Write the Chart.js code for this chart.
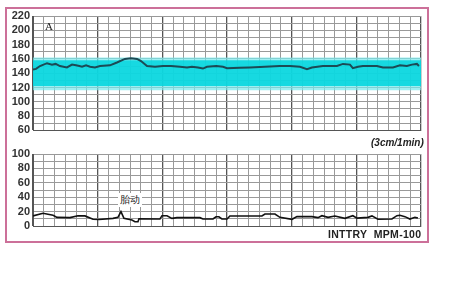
<!DOCTYPE html>
<html>
<head>
<meta charset="utf-8">
<script src="https://cdn.jsdelivr.net/npm/chart.js@4.4.1/dist/chart.umd.min.js"></script>
<style>
    body { margin: 0; background: #fff; }
    #wrap { position: relative; width: 471px; height: 300px; overflow: hidden; }
    #frame { position: absolute; left: 5px; top: 7px; width: 424px; height: 236px; box-sizing: border-box; border: 2px solid #cc7099; }
    canvas { position: absolute; left: 0; }
    .note { position: absolute; font-family: "Liberation Sans", Arial, sans-serif; color: #222; white-space: nowrap; }
</style>
</head>
<body>
<div id="wrap">
    <div id="frame"></div>
    <canvas id="fhrChart" width="471" height="140" style="top:0"></canvas>
    <canvas id="tocoChart" width="471" height="100" style="top:140px"></canvas>
    <div class="note" style="left:45px; top:20px; font-size:11px; font-family:'Liberation Serif', serif;">A</div>
    <div class="note" style="left:371px; top:137px; font-size:10px; font-weight:bold; font-style:italic;">(3cm/1min)</div>
    <div class="note" style="left:118px; top:193px; font-size:10px; background:#fff; padding:0 2px;">胎动</div>
    <div class="note" style="left:328px; top:228px; font-size:10.5px; font-weight:bold; letter-spacing:0.3px;">INTTRY&nbsp; MPM-100</div>
</div>
<script>
// time in small grid squares (6 squares = 1 big square)
const fhrTime = [0, 0.28, 0.65, 1.3, 1.76, 2.1, 2.5, 3.15, 3.62, 3.99, 4.3, 4.55, 4.92, 5.3, 5.75, 6.22, 7.14, 7.79, 8.53, 9.09, 9.65, 10.02, 10.58, 11.32, 12.06, 12.8, 13.64, 14.29, 14.75, 15.3, 15.77, 16.14, 17.0, 17.63, 18, 19.2, 20.13, 21.52, 22.91, 23.84, 24.77, 25.42, 25.88, 26.9, 28.2, 28.76, 29.41, 29.68, 30.15, 30.61, 31.91, 32.47, 33.4, 34.05, 34.69, 35.16, 35.62, 35.81];
const fhrValues = [145, 146, 150, 154, 152, 153, 150, 148, 152, 151, 150, 149, 151, 149, 148, 150, 151, 155, 160, 161, 160, 157, 150, 149, 150, 150, 149, 148, 149, 148, 146.5, 149, 150, 149, 147, 147.5, 148, 149, 150, 150, 149, 145.5, 148, 150, 150, 153, 152, 147, 149, 150, 150, 148, 148, 151, 150, 152, 153, 150];

const tocoTime = [0, 0.93, 1.86, 2.23, 3.43, 4.17, 4.82, 5.57, 6.12, 7.42, 7.88, 8.16, 8.44, 9.18, 9.46, 9.74, 9.83, 11.78, 11.97, 12.43, 12.89, 13.36, 15.49, 15.77, 16.7, 16.98, 17.25, 17.53, 18, 18.27, 21.24, 21.52, 22.45, 22.91, 24.03, 24.49, 25.88, 26.44, 26.81, 27.37, 28.01, 28.94, 29.68, 30.06, 31.08, 31.45, 32, 33.3, 33.77, 34.04, 34.51, 34.97, 35.44, 35.71];
const tocoValues = [14, 17.6, 15, 12, 11.6, 14.3, 14, 9.3, 9, 10.6, 12, 20, 10.6, 8.3, 6, 6, 10, 9.7, 14.3, 14.3, 10.6, 11.6, 11.6, 9.7, 9.7, 12.8, 12.8, 9.7, 9.7, 13.9, 13.9, 16.7, 16.7, 12, 9.3, 13, 13, 11.6, 14.3, 12, 13.9, 10.6, 14.3, 11, 12, 14, 9.3, 9.7, 14.3, 15, 13, 9.7, 12, 11];

const normalBand = [120, 160];
const fhrTicks = [60, 80, 100, 120, 140, 160, 180, 200, 220];
const tocoTicks = [0, 20, 40, 60, 80, 100];

const tickFont = { family: '"Liberation Sans", Arial, sans-serif', size: 11, weight: 'bold' };

function xAxis() {
    return {
        type: 'linear',
        min: 0,
        max: 36,
        afterFit: axis => { axis.height = 0; },
        ticks: { display: false, stepSize: 1 },
        grid: {
            drawTicks: false,
            color: ctx => ctx.tick && ctx.tick.value % 6 === 0 ? '#555' : '#999',
            lineWidth: ctx => ctx.tick && ctx.tick.value % 6 === 0 ? 1.3 : 1
        },
        border: { color: '#555' }
    };
}

function yAxis(min, max, labels) {
    return {
        min: min,
        max: max,
        afterFit: axis => { axis.width = 33; },
        ticks: {
            stepSize: 10,
            autoSkip: false,
            padding: 3,
            color: '#333',
            font: tickFont,
            callback: v => labels.includes(v) ? v : ''
        },
        grid: { drawTicks: false, color: '#999' },
        border: { color: '#555' }
    };
}

function flat(y) {
    return [{ x: 0, y: y }, { x: 36, y: y }];
}

function toPoints(xs, ys) {
    return xs.map((x, i) => ({ x: x, y: ys[i] }));
}

// trace first so it is drawn above the band fills
new Chart(document.getElementById('fhrChart'), {
    type: 'line',
    data: {
        datasets: [
            {
                data: toPoints(fhrTime, fhrValues),
                borderColor: '#1c4a55',
                borderWidth: 2,
                pointRadius: 0,
                tension: 0,
                fill: false
            },
            { data: flat(normalBand[0] + 2), pointRadius: 0, borderWidth: 0, fill: false },
            { data: flat(normalBand[1] - 2), pointRadius: 0, borderWidth: 0, fill: 1, backgroundColor: 'rgba(0,214,222,0.85)' },
            { data: flat(normalBand[0] - 4), pointRadius: 0, borderWidth: 0, fill: false },
            { data: flat(normalBand[1] + 2), pointRadius: 0, borderWidth: 0, fill: 3, backgroundColor: 'rgba(120,232,236,0.7)' }
        ]
    },
    options: {
        responsive: false,
        animation: false,
        layout: { padding: { left: 0, top: 16, right: 50, bottom: 8 } },
        scales: {
            x: xAxis(),
            y: yAxis(60, 220, fhrTicks)
        },
        plugins: { legend: { display: false }, tooltip: { enabled: false } }
    }
});

new Chart(document.getElementById('tocoChart'), {
    type: 'line',
    data: {
        datasets: [{
            data: toPoints(tocoTime, tocoValues),
            borderColor: '#111',
            borderWidth: 1.6,
            pointRadius: 0,
            tension: 0,
            fill: false
        }]
    },
    options: {
        responsive: false,
        animation: false,
        layout: { padding: { left: 0, top: 14, right: 50, bottom: 14 } },
        scales: {
            x: xAxis(),
            y: yAxis(0, 100, tocoTicks)
        },
        plugins: { legend: { display: false }, tooltip: { enabled: false } }
    }
});
</script>
</body>
</html>
